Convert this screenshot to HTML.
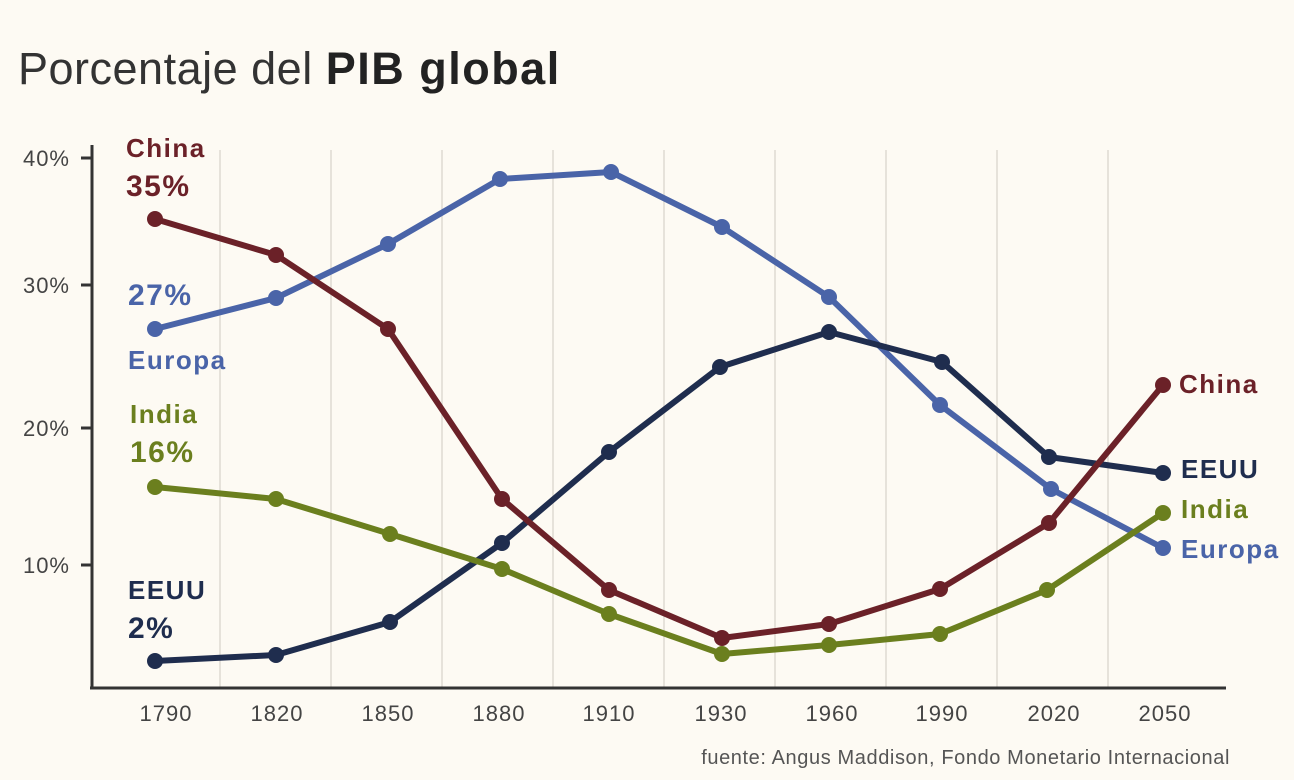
<!DOCTYPE html>
<html><head><meta charset="utf-8"><style>
html,body{margin:0;padding:0;background:#fdfaf3;}
svg{display:block;font-family:"Liberation Sans",sans-serif;}
</style></head><body>
<svg width="1294" height="780" viewBox="0 0 1294 780">
<rect width="1294" height="780" fill="#fdfaf3"/>
<text x="18" y="84" font-size="45" fill="#222" letter-spacing="0.5"><tspan fill="#333">Porcentaje del </tspan><tspan font-weight="bold" letter-spacing="1.5">PIB global</tspan></text>
<g stroke="#dedad2" stroke-width="1.5">
<line x1="220" y1="150" x2="220" y2="688"/><line x1="331" y1="150" x2="331" y2="688"/><line x1="442" y1="150" x2="442" y2="688"/><line x1="553" y1="150" x2="553" y2="688"/><line x1="664" y1="150" x2="664" y2="688"/><line x1="775" y1="150" x2="775" y2="688"/><line x1="886" y1="150" x2="886" y2="688"/><line x1="997" y1="150" x2="997" y2="688"/><line x1="1108" y1="150" x2="1108" y2="688"/>
</g>
<g stroke="#333" stroke-width="3">
<line x1="92" y1="145" x2="92" y2="689"/><line x1="90" y1="688" x2="1226" y2="688"/>
<line x1="81" y1="158" x2="92" y2="158"/><line x1="81" y1="285" x2="92" y2="285"/><line x1="81" y1="428" x2="92" y2="428"/><line x1="81" y1="565" x2="92" y2="565"/>
</g>
<g font-size="22" fill="#444" text-anchor="end" letter-spacing="1">
<text x="70" y="166">40%</text><text x="70" y="293">30%</text><text x="70" y="436">20%</text><text x="70" y="573">10%</text>
</g>
<g font-size="22" fill="#444" text-anchor="middle" letter-spacing="1">
<text x="166" y="721">1790</text><text x="277" y="721">1820</text><text x="388" y="721">1850</text><text x="499" y="721">1880</text><text x="609" y="721">1910</text><text x="721" y="721">1930</text><text x="832" y="721">1960</text><text x="942" y="721">1990</text><text x="1054" y="721">2020</text><text x="1165" y="721">2050</text>
</g>
<text x="1230" y="764" font-size="20" fill="#555" text-anchor="end" letter-spacing="0.6">fuente: Angus Maddison, Fondo Monetario Internacional</text>
<g fill="none" stroke-width="6" stroke-linejoin="round">
<polyline stroke="#4a64a8" points="155,329 276,298 388,244 500,179 611,172 722,227 829,297 940,405 1051,489 1163,548"/>
<polyline stroke="#1f2d4e" points="155,661 276,655 390,622 502,543 609,452 720,367 829,332 942,362 1049,457 1163,473"/>
<polyline stroke="#6b2128" points="155,219 276,255 388,329 502,499 609,590 722,638 829,624 940,589 1049,523 1163,385"/>
<polyline stroke="#6b7f1e" points="155,487 276,499 390,534 502,569 609,614 722,654 829,645 940,634 1047,590 1163,513"/>
</g>
<g fill="#4a64a8"><circle cx="155" cy="329" r="8"/><circle cx="276" cy="298" r="8"/><circle cx="388" cy="244" r="8"/><circle cx="500" cy="179" r="8"/><circle cx="611" cy="172" r="8"/><circle cx="722" cy="227" r="8"/><circle cx="829" cy="297" r="8"/><circle cx="940" cy="405" r="8"/><circle cx="1051" cy="489" r="8"/><circle cx="1163" cy="548" r="8"/></g>
<g fill="#1f2d4e"><circle cx="155" cy="661" r="8"/><circle cx="276" cy="655" r="8"/><circle cx="390" cy="622" r="8"/><circle cx="502" cy="543" r="8"/><circle cx="609" cy="452" r="8"/><circle cx="720" cy="367" r="8"/><circle cx="829" cy="332" r="8"/><circle cx="942" cy="362" r="8"/><circle cx="1049" cy="457" r="8"/><circle cx="1163" cy="473" r="8"/></g>
<g fill="#6b2128"><circle cx="155" cy="219" r="8"/><circle cx="276" cy="255" r="8"/><circle cx="388" cy="329" r="8"/><circle cx="502" cy="499" r="8"/><circle cx="609" cy="590" r="8"/><circle cx="722" cy="638" r="8"/><circle cx="829" cy="624" r="8"/><circle cx="940" cy="589" r="8"/><circle cx="1049" cy="523" r="8"/><circle cx="1163" cy="385" r="8"/></g>
<g fill="#6b7f1e"><circle cx="155" cy="487" r="8"/><circle cx="276" cy="499" r="8"/><circle cx="390" cy="534" r="8"/><circle cx="502" cy="569" r="8"/><circle cx="609" cy="614" r="8"/><circle cx="722" cy="654" r="8"/><circle cx="829" cy="645" r="8"/><circle cx="940" cy="634" r="8"/><circle cx="1047" cy="590" r="8"/><circle cx="1163" cy="513" r="8"/></g>
<g font-weight="bold" letter-spacing="1.5">
<text x="126" y="157" font-size="26" fill="#6b2128">China</text>
<text x="126" y="196" font-size="30" fill="#6b2128">35%</text>
<text x="128" y="305" font-size="30" fill="#4a64a8">27%</text>
<text x="128" y="369" font-size="26" fill="#4a64a8">Europa</text>
<text x="130" y="423" font-size="26" fill="#6b7f1e">India</text>
<text x="130" y="462" font-size="30" fill="#6b7f1e">16%</text>
<text x="128" y="599" font-size="26" fill="#1f2d4e">EEUU</text>
<text x="128" y="638" font-size="30" fill="#1f2d4e">2%</text>
<text x="1179" y="393" font-size="26" fill="#6b2128">China</text>
<text x="1181" y="478" font-size="26" fill="#1f2d4e">EEUU</text>
<text x="1181" y="518" font-size="26" fill="#6b7f1e">India</text>
<text x="1181" y="558" font-size="26" fill="#4a64a8">Europa</text>
</g>
</svg>
</body></html>
